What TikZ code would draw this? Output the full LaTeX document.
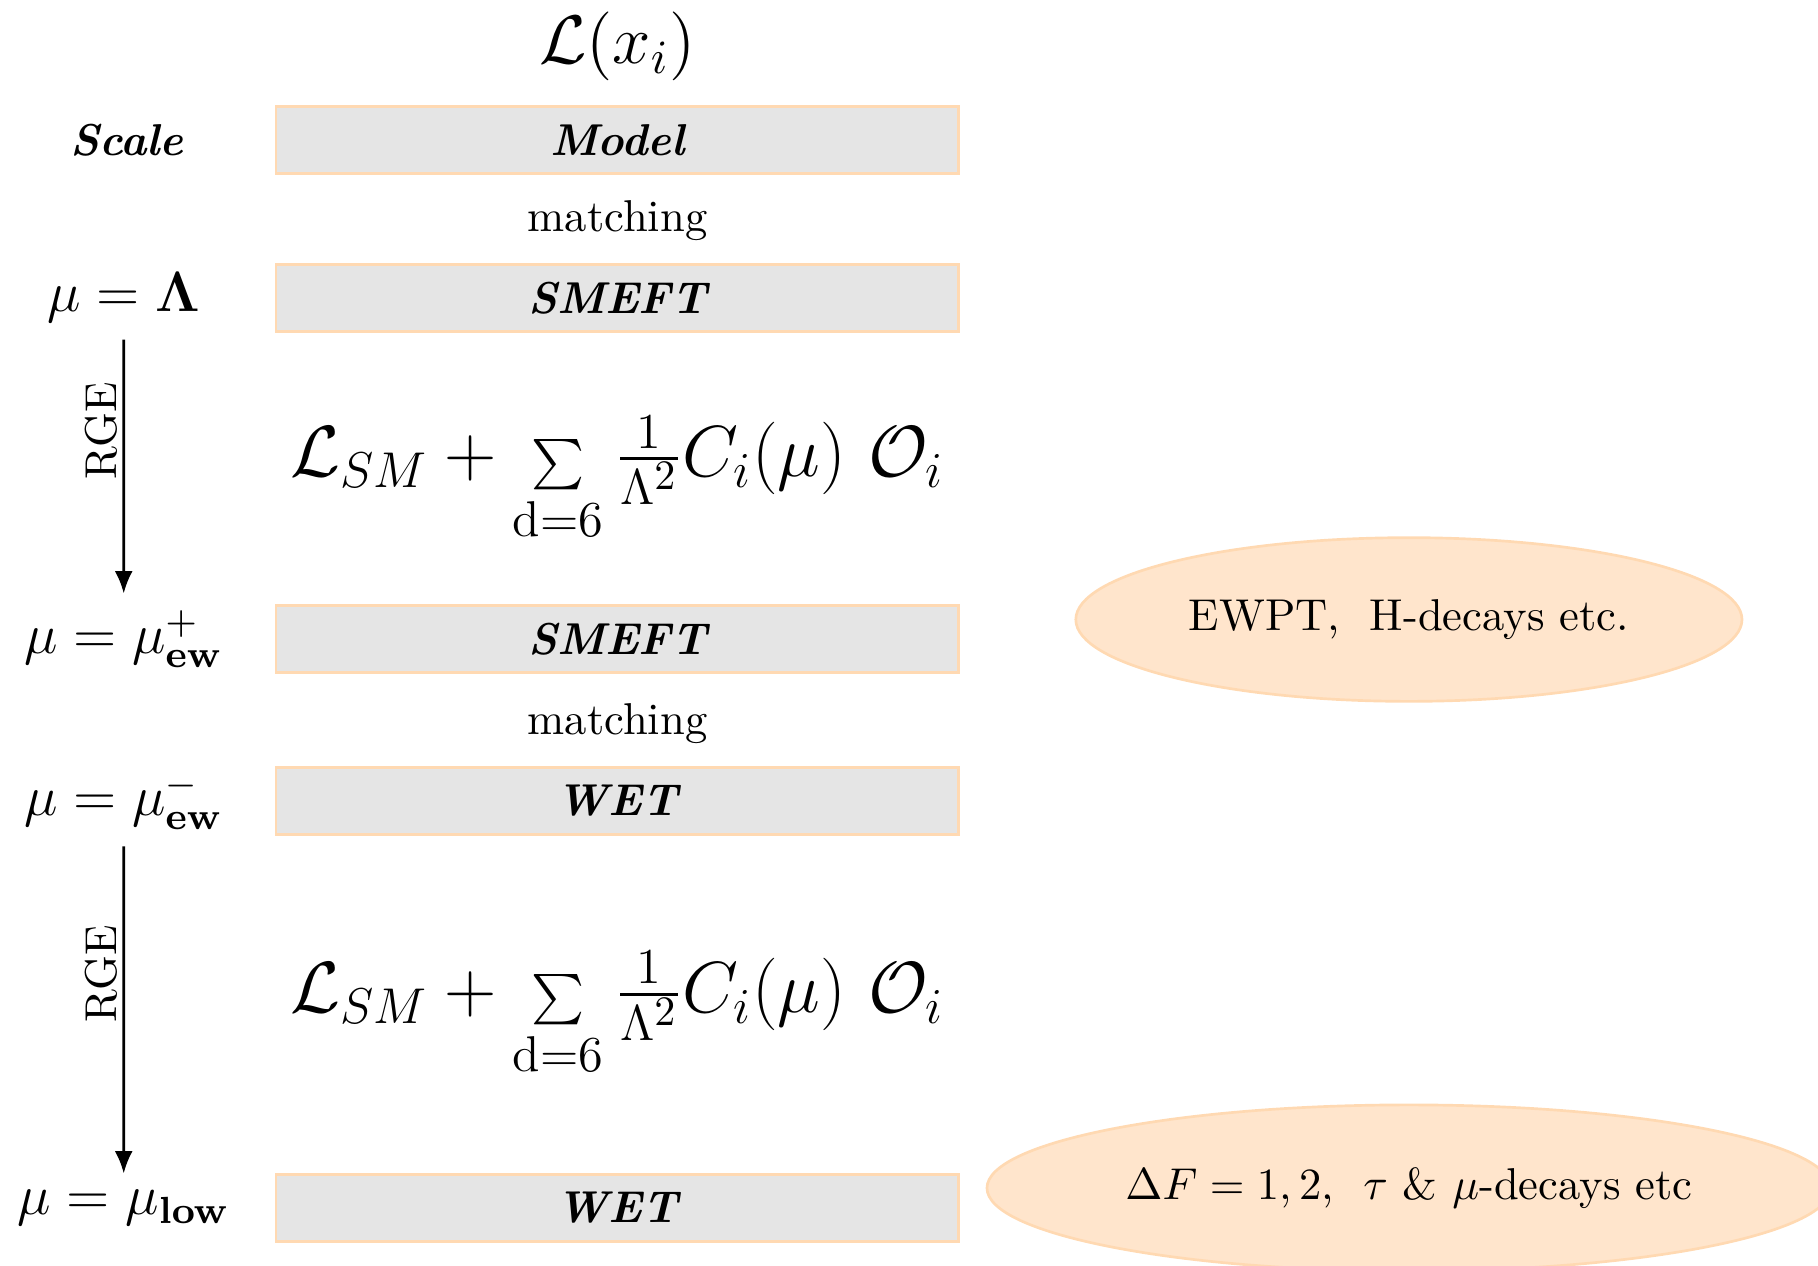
\documentclass[tikz,border=0pt]{standalone}
\usepackage{amsmath,amssymb}
\usepackage{tikz}
\usetikzlibrary{arrows.meta,shapes.geometric,positioning}

\newcommand{\lsum}{\mathcal{L}_{SM}+\mathop{\scriptstyle\sum}\limits_{\rm d=6}\frac{1}{\Lambda^2}C_i(\mu)\ \mathcal{O}_i}

\begin{document}
\begin{tikzpicture}[
    eft/.style={draw=orange!30, semithick, fill=black!10, minimum width=5.38cm, minimum height=0.53cm, inner sep=0pt, font=\bfseries\itshape},
    obs/.style={ellipse, draw=orange!30, semithick, fill=orange!20, inner sep=0pt},
    scl/.style={font=\large, scale=1.06, transform shape},
    lgr/.style={font=\LARGE, scale=0.94, transform shape},
    arr/.style={-{Latex[length=5pt,width=4pt]}, semithick},
    rge/.style={rotate=90, anchor=south, inner sep=1pt}
]
\useasboundingbox (0,0) rectangle (14.327,-9.969);
\node[font=\Large, scale=1.07, transform shape] (lag) at (4.866,-0.362) {$\mathcal{L}(x_i)$};
\node[font=\bfseries\itshape] (sc) at (1.0,-1.103) {Scale};
\node[eft] (model) at (4.866,-1.103) {Model};
\node (m1) at (4.866,-1.74) {matching};
\node[scl] (lam) at (0.975,-2.348) {$\mu=\mathbf{\Lambda}$};
\node[eft] (smefta) at (4.866,-2.348) {SMEFT};
\node[lgr] (lsa) at (4.866,-3.78) {$\lsum$};
\node[scl] (ewp) at (0.975,-5.035) {$\mu=\mu_{\mathbf{ew}}^{+}$};
\node[eft] (smeftb) at (4.866,-5.035) {SMEFT};
\node[obs, minimum width=5.25cm, minimum height=1.29cm] (ewpt) at (11.103,-4.882) {EWPT, \ H-decays etc.};
\node (m2) at (4.866,-5.70) {matching};
\node[scl] (ewm) at (0.975,-6.312) {$\mu=\mu_{\mathbf{ew}}^{-}$};
\node[eft] (weta) at (4.866,-6.312) {WET};
\node[lgr] (lsb) at (4.866,-8.00) {$\lsum$};
\node[scl] (low) at (0.975,-9.519) {$\mu=\mu_{\mathbf{low}}$};
\node[eft] (wetb) at (4.866,-9.519) {WET};
\node[obs, minimum width=6.65cm, minimum height=1.31cm] (flav) at (11.103,-9.362) {$\Delta F=1,2$, \ $\tau$ \& $\mu$-decays etc};

\draw[arr] (lam) -- node[rge, pos=0.36] {RGE} (ewp);
\draw[arr] (ewm) -- node[rge, pos=0.39] {RGE} (low);
\end{tikzpicture}
\end{document}
